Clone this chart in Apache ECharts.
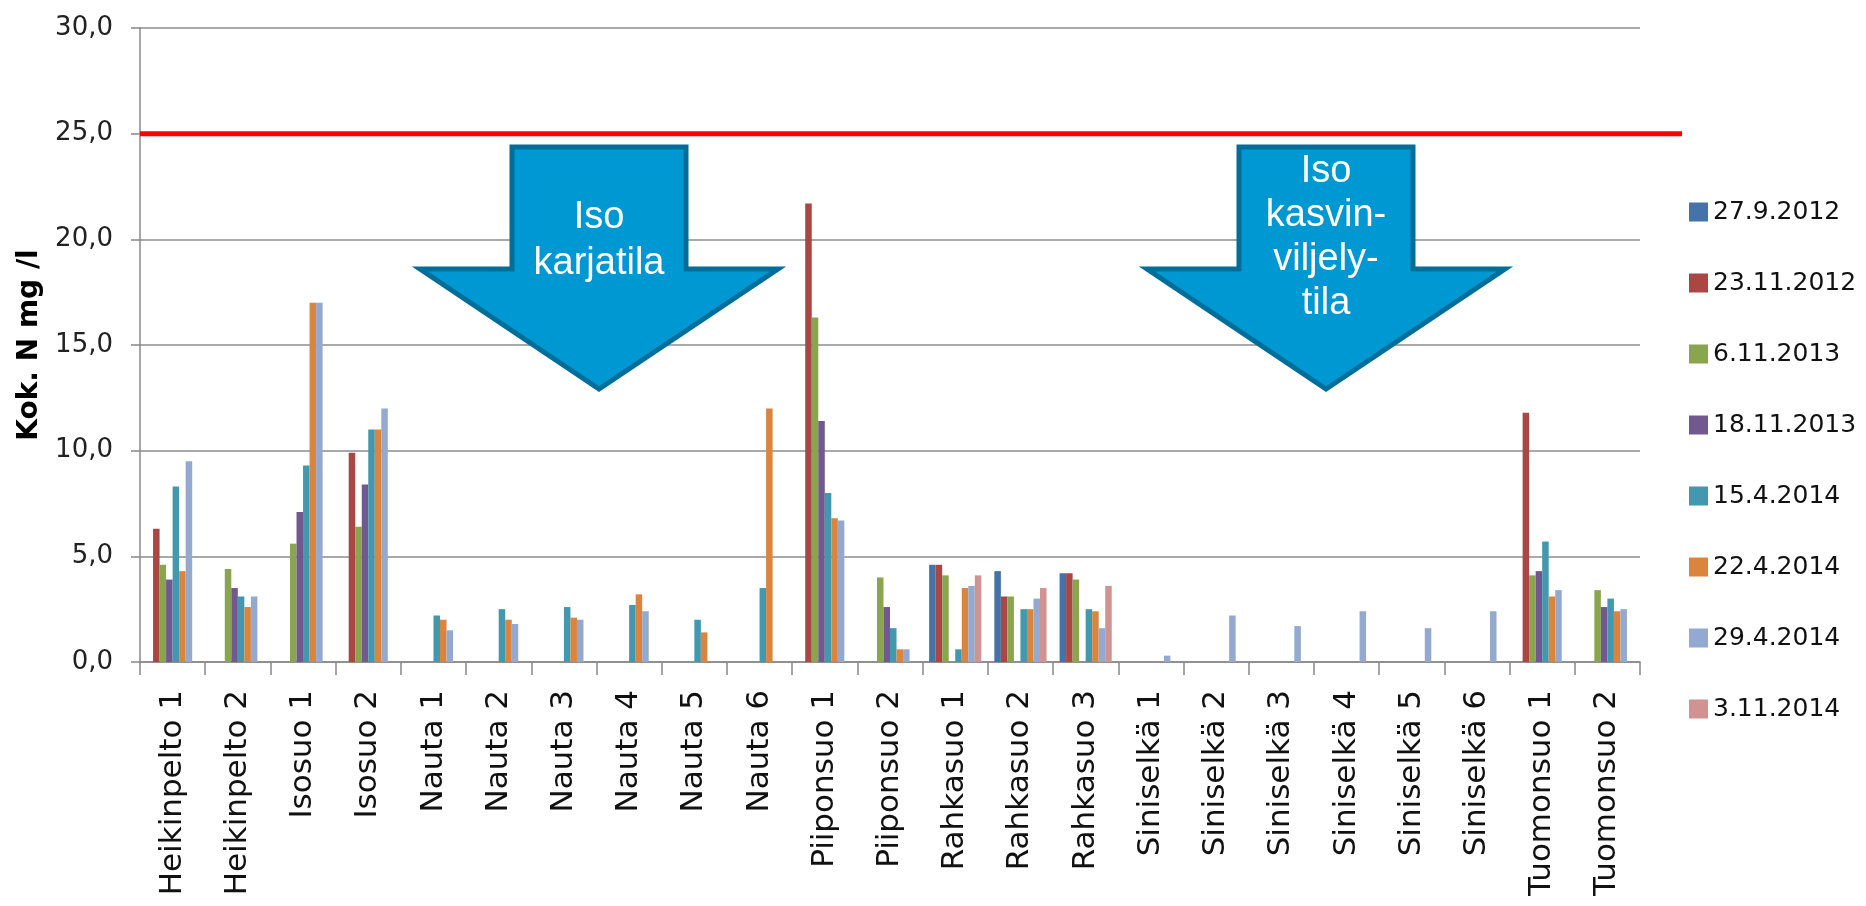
<!DOCTYPE html>
<html>
<head>
<meta charset="utf-8">
<script src="https://cdn.jsdelivr.net/npm/echarts@6/dist/echarts.min.js"></script>
<style>
html,body{margin:0;padding:0;background:#fff;}
#chart{width:1866px;height:906px;}
</style>
</head>
<body>
<div id="chart"></div>
<script>
const categories = ['Heikinpelto 1','Heikinpelto 2','Isosuo 1','Isosuo 2','Nauta 1','Nauta 2','Nauta 3','Nauta 4','Nauta 5','Nauta 6','Piiponsuo 1','Piiponsuo 2','Rahkasuo 1','Rahkasuo 2','Rahkasuo 3','Siniselkä 1','Siniselkä 2','Siniselkä 3','Siniselkä 4','Siniselkä 5','Siniselkä 6','Tuomonsuo 1','Tuomonsuo 2'];
const seriesNames = ['27.9.2012','23.11.2012','6.11.2013','18.11.2013','15.4.2014','22.4.2014','29.4.2014','3.11.2014'];
const colors = ['#4572A7','#AA4643','#89A54E','#71588F','#4198AF','#DB843D','#93A9CF','#D19392'];
//                H1   H2   I1   I2   N1   N2   N3   N4   N5   N6   P1   P2   R1   R2   R3   S1   S2   S3   S4   S5   S6   T1   T2
const s_27_9_2012  = [null,null,null,null,null,null,null,null,null,null,null,null,4.6, 4.3, 4.2, null,null,null,null,null,null,null,null];
const s_23_11_2012 = [6.3, null,null,9.9, null,null,null,null,null,null,21.7,null,4.6, 3.1, 4.2, null,null,null,null,null,null,11.8,null];
const s_6_11_2013  = [4.6, 4.4, 5.6, 6.4, null,null,null,null,null,null,16.3,4.0, 4.1, 3.1, 3.9, null,null,null,null,null,null,4.1, 3.4];
const s_18_11_2013 = [3.9, 3.5, 7.1, 8.4, null,null,null,null,null,null,11.4,2.6, null,null,null,null,null,null,null,null,null,4.3, 2.6];
const s_15_4_2014  = [8.3, 3.1, 9.3, 11.0,2.2, 2.5, 2.6, 2.7, 2.0, 3.5, 8.0, 1.6, 0.6, 2.5, 2.5, null,null,null,null,null,null,5.7, 3.0];
const s_22_4_2014  = [4.3, 2.6, 17.0,11.0,2.0, 2.0, 2.1, 3.2, 1.4, 12.0,6.8, 0.6, 3.5, 2.5, 2.4, null,null,null,null,null,null,3.1, 2.4];
const s_29_4_2014  = [9.5, 3.1, 17.0,12.0,1.5, 1.8, 2.0, 2.4, null,null,6.7, 0.6, 3.6, 3.0, 1.6, 0.3, 2.2, 1.7, 2.4, 1.6, 2.4, 3.4, 2.5];
const s_3_11_2014  = [null,null,null,null,null,null,null,null,null,null,null,null,4.1, 3.5, 3.6, null,null,null,null,null,null,null,null];
const seriesValues = [s_27_9_2012,s_23_11_2012,s_6_11_2013,s_18_11_2013,s_15_4_2014,s_22_4_2014,s_29_4_2014,s_3_11_2014];
const yTicks = [0,5,10,15,20,25,30];
const limitValue = 25;
const arrowTexts = ['Iso\nkarjatila','Iso\nkasvin-\nviljely-\ntila'];

const chart = echarts.init(document.getElementById('chart'));
const barSeries = seriesNames.map((n,i)=>({
  name:n, type:'bar', xAxisIndex:0, yAxisIndex:0,
  data:seriesValues[i], barGap:'0%', barCategoryGap:'20%',
  itemStyle:{color:colors[i]}
}));
function arrow(cx, top, shaftHalf, baseY, headHalf, tipY){
  return {
    type:'polygon', z:100,
    shape:{points:[[cx-shaftHalf,top],[cx+shaftHalf,top],[cx+shaftHalf,baseY],[cx+headHalf,baseY],[cx,tipY],[cx-headHalf,baseY],[cx-shaftHalf,baseY]]},
    style:{fill:'#0098D3',stroke:'#006E99',lineWidth:5,lineJoin:'miter'}
  };
}
const option = {
  animation:false,
  backgroundColor:'#ffffff',
  grid:[
    {left:140,right:226,top:28,bottom:244},
    {left:140,right:184,top:28,bottom:244}
  ],
  xAxis:[
    {type:'category',gridIndex:0,data:categories,
     axisLine:{lineStyle:{color:'#888888',width:1.5}},
     axisTick:{show:true,interval:0,length:13,lineStyle:{color:'#888888',width:1.5}},
     axisLabel:{interval:0,rotate:90,margin:28,fontSize:31,fontFamily:'DejaVu Sans',color:'#111'},
     splitLine:{show:false}},
    {type:'value',gridIndex:1,min:0,max:1,show:false}
  ],
  yAxis:[
    {type:'value',gridIndex:0,min:yTicks[0],max:yTicks[yTicks.length-1],interval:5,
     name:'Kok. N mg /l',nameLocation:'middle',nameGap:94,
     nameTextStyle:{fontWeight:'bold',fontSize:28,fontFamily:'DejaVu Sans',color:'#000'},
     axisLine:{show:true,lineStyle:{color:'#888888',width:1.5}},
     axisTick:{show:true,length:9,lineStyle:{color:'#888888',width:1.5}},
     axisLabel:{margin:27,fontSize:26,fontFamily:'DejaVu Sans',color:'#222',
       formatter:v=>v.toFixed(1).replace('.',',')},
     splitLine:{lineStyle:{color:'#8c8c8c',width:1.5}}},
    {type:'value',gridIndex:1,min:0,max:30,show:false}
  ],
  legend:{
    data:seriesNames, orient:'vertical', left:1684, top:194,
    itemWidth:19, itemHeight:19, itemGap:45, icon:'rect',
    textStyle:{fontSize:25,fontFamily:'DejaVu Sans',color:'#111',lineHeight:26}
  },
  series:[...barSeries,
    {name:'limit',type:'line',xAxisIndex:1,yAxisIndex:1,data:[[0,limitValue],[1,limitValue]],
     symbol:'none',silent:true,z:5,lineStyle:{color:'#FF0000',width:5}}
  ],
  graphic:[
    arrow(599,147,87,269,179,389),
    arrow(1326,147,87,269,179,389),
    {type:'text',z:101,x:599,y:241,style:{text:arrowTexts[0],fill:'#fff',font:'38px "Liberation Sans", Arial, sans-serif',lineHeight:46,align:'center',verticalAlign:'middle'}},
    {type:'text',z:101,x:1326,y:238,style:{text:arrowTexts[1],fill:'#fff',font:'38px "Liberation Sans", Arial, sans-serif',lineHeight:44,align:'center',verticalAlign:'middle'}}
  ]
};
chart.setOption(option);
</script>
</body>
</html>
